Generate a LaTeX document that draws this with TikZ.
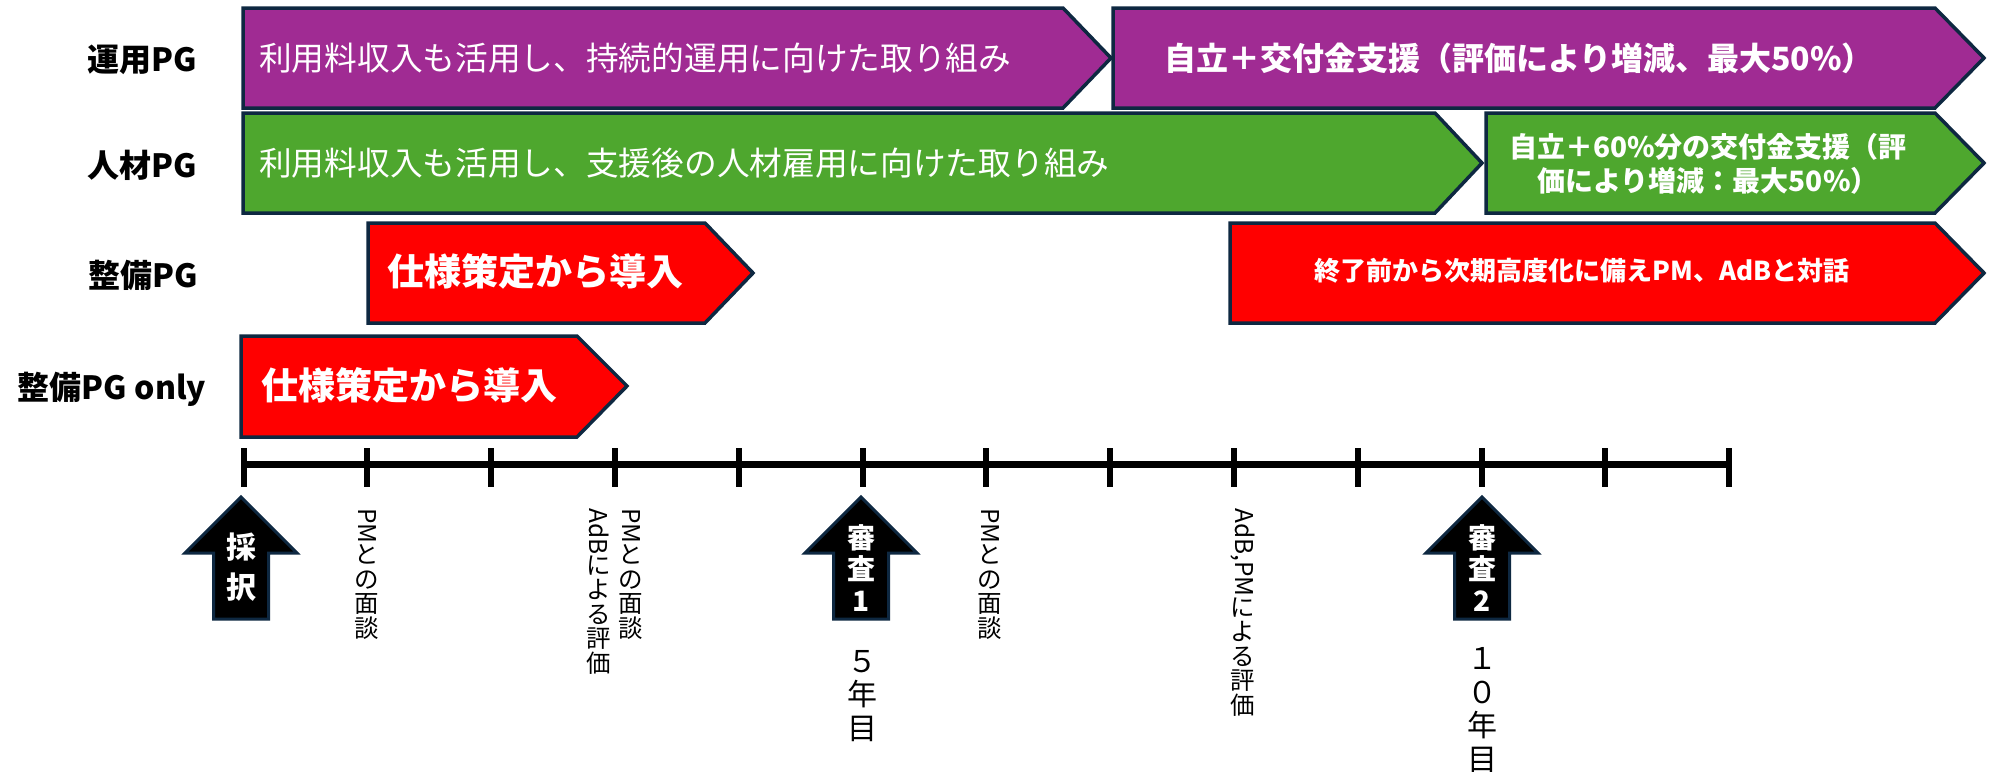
\documentclass[tikz,border=0pt]{standalone}
\usepackage{fontspec}
\setmainfont{Noto Sans CJK JP}
\usetikzlibrary{calc}
\definecolor{purp}{HTML}{A02B93}
\definecolor{grn}{HTML}{4EA72E}
\definecolor{navy}{HTML}{0E2841}
\definecolor{redb}{HTML}{FF0000}
\newcommand{\fsz}[2]{\fontsize{#1}{#2}\selectfont}
\newcommand{\rot}[1]{\rotatebox{-90}{#1}}
% chevron: x-left, y-top, x-shoulder, y-bottom, x-tip, y-mid, colour
\newcommand{\chev}[7]{\draw[chevbox, fill=#7] (#1,#2) -- (#3,#2) -- (#5,#6) -- (#3,#4) -- (#1,#4) -- cycle;}
\newcommand{\uparr}[1]{\draw[uparrow] (#1,497) -- ({#1+56},553) -- ({#1+27.5},553) -- ({#1+27.5},619) -- ({#1-27.5},619) -- ({#1-27.5},553) -- ({#1-56},553) -- cycle;}
\begin{document}
\begin{tikzpicture}[x=1pt,y=-1pt,
  chevbox/.style={draw=navy, line width=3.5pt, line join=miter},
  uparrow/.style={draw=navy, fill=black, line width=3pt, line join=miter},
  rowlabel/.style={font=\fsz{32}{36}\bfseries, text=black, inner sep=0pt},
  lighttxt/.style={font=\fsz{32.7}{36}, text=white, inner sep=0pt},
  boldtxt/.style={text=white, inner sep=0pt, align=center},
  vlabel/.style={font=\fsz{24.5}{24.5}, text=black, inner sep=0pt, align=center, anchor=north},
  arrtxt/.style={text=white, inner sep=0pt, align=center, font=\bfseries},
  yeartxt/.style={text=black, inner sep=0pt, align=center, font=\fsz{30}{33.5}},
  axis/.style={line width=7pt, black},
  tick/.style={line width=6pt, black}]
\useasboundingbox (0,0) rectangle (1991,771);

% row labels
\node[rowlabel, anchor=east] (lUnyo) at (197,60) {運用PG};
\node[rowlabel, anchor=east] (lJinzai) at (197,165) {人材PG};
\node[rowlabel, anchor=east] (lSeibi) at (198,275) {整備PG};
\node[rowlabel] (lOnly) at (112,389) {整備PG only};

% chevrons
\chev{243}{8}{1063}{108}{1111}{58}{purp}
\chev{1113}{8}{1935}{108}{1984}{58}{purp}
\chev{243}{113}{1435}{213}{1482}{163}{grn}
\chev{1486}{113}{1935}{213}{1984}{163}{grn}
\chev{368}{223}{705}{323}{753}{273}{redb}
\chev{1230}{223}{1935}{323}{1984}{273}{redb}
\chev{241}{336}{577}{437}{627}{386}{redb}

% chevron texts
\node[lighttxt, anchor=west] (tU1) at (259,58) {利用料収入も活用し、持続的運用に向けた取り組み};
\node[lighttxt, anchor=west] (tJ1) at (259,163) {利用料収入も活用し、支援後の人材雇用に向けた取り組み};
\node[boldtxt, font=\fsz{32}{36}\bfseries] (tU2) at (1519,58) {自立＋交付金支援（評価により増減、最大50\%）};
\node[boldtxt, font=\fsz{28}{34}\bfseries] (tJ2) at (1708,164) {自立＋60\%分の交付金支援（評\\価により増減：最大50\%）};
\node[boldtxt, font=\fsz{37}{40}\bfseries, anchor=west] (tS1) at (387,271) {仕様策定から導入};
\node[boldtxt, font=\fsz{26}{30}\bfseries] (tS2) at (1582,271) {終了前から次期高度化に備えPM、AdBと対話};
\node[boldtxt, font=\fsz{37}{40}\bfseries, anchor=west] (tO1) at (261,385) {仕様策定から導入};

% timeline
\foreach \k in {0,...,12} \coordinate (t\k) at ({243.6+123.8*\k},464);
\draw[axis] (t0) -- (t12);
\foreach \k in {0,...,12} \draw[tick] ($(t\k)+(0,-16)$) -- ($(t\k)+(0,23)$);

% up arrows
\uparr{241}
\uparr{861}
\uparr{1482}
\node[arrtxt, font=\fsz{30}{40}\bfseries] (aSaitaku) at (241,567) {採\\択};
\node[arrtxt, font=\fsz{28}{31.5}\bfseries] (aShinsa1) at (861,568) {審\\査\\1};
\node[arrtxt, font=\fsz{28}{31.5}\bfseries] (aShinsa2) at (1482,568) {審\\査\\2};

% vertical labels
\node[vlabel] (v1) at (367,508) {\rot{PM}\\と\\の\\面\\談};
\node[vlabel] (v2a) at (631,508) {\rot{PM}\\と\\の\\面\\談};
\node[vlabel] (v2b) at (599,508) {\rot{AdB}\\に\\よ\\る\\評\\価};
\node[vlabel] (v3) at (990,508) {\rot{PM}\\と\\の\\面\\談};
\node[vlabel] (v4) at (1243,508) {\rot{AdB,PM}\\に\\よ\\る\\評\\価};

% years
\node[yeartxt] (y5) at (862,696) {５\\年\\目};
\node[yeartxt] (y10) at (1482,710) {１\\０\\年\\目};
\end{tikzpicture}
\end{document}
